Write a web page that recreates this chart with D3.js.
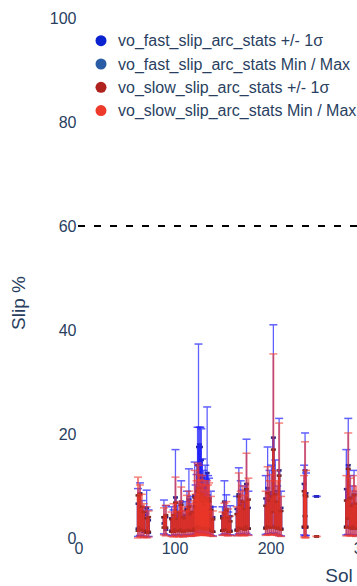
<!DOCTYPE html>
<html>
<head>
<meta charset="utf-8">
<script src="https://cdn.jsdelivr.net/npm/d3@7"></script>
<style>
  html, body { margin: 0; padding: 0; background: #fff; }
  svg { display: block; font-family: "Liberation Sans", Arial, sans-serif; }
  .tick text { fill: #2a3f5f; font-size: 16px; }
  .legend-label { fill: #2a3f5f; font-size: 16px; }
  .axis-title { fill: #2a3f5f; font-size: 19px; }
</style>
</head>
<body>
<div id="chart"></div>
<script>
// Sols with arc stats (grouped by cluster on each line)
const sols = [
  62, 64, 66, 68, 71, 73,
  89, 91,
  97, 99, 101, 103, 105, 107, 109, 111, 113, 115, 117, 119,
  121, 122, 123, 124, 125, 126, 127, 128, 129, 130, 131, 132, 133, 134, 135, 136,
  138, 140,
  150, 152, 154, 156, 158,
  165, 167, 169, 171, 173, 175, 177,
  195, 197, 199, 201, 203, 205, 207, 209, 211,
  235, 236, 237,
  248,
  279, 281, 283, 285, 287, 289
];

const fastMin = [
  0.3, 0.5, 0.4, 0.2, 0.2, 0.3,
  0.8, 0.6,
  0.5, 0.4, 0.6, 0.5, 0.4, 0.6, 0.3, 0.5, 0.6, 0.5, 0.4, 0.5,
  0.7, 0.6, 0.8, 1.0, 1.2, 1.0, 0.9, 0.8, 0.9, 0.7, 0.6, 0.8, 0.6, 0.9, 0.7, 0.6,
  0.5, 0.4,
  0.6, 0.8, 0.7, 0.5, 0.6,
  0.5, 0.8, 0.7, 0.6, 0.6, 0.9, 0.6,
  0.7, 0.8, 0.7, 0.8, 1.0, 0.8, 0.6, 0.5, 0.4,
  0.6, 0.4, 0.5,
  8,
  0.6, 0.7, 0.6, 0.5, 0.6, 0.4
];
const fastMean = [
  4.2, 5.6, 3.4, 2.8, 3.6, 2.2,
  3.4, 2.8,
  2.6, 2.2, 4.8, 2.8, 3.0, 4.4, 2.4, 3.0, 3.6, 4.6, 3.2, 2.8,
  5.0, 4.2, 4.6, 8.5, 10.5, 11.5, 10.0, 9.0, 7.0, 6.0, 5.4, 6.2, 5.0, 7.5, 5.2, 4.8,
  3.8, 2.6,
  2.8, 4.4, 3.6, 2.4, 2.8,
  3.6, 5.2, 4.6, 4.0, 4.2, 6.4, 3.8,
  4.8, 6.0, 5.2, 5.6, 12.5, 5.6, 4.0, 7.5, 3.8,
  6.2, 7.5, 5.4,
  8,
  5.8, 9.0, 5.0, 4.2, 5.4, 3.8
];
const fastSd = [
  2.4, 3.0, 1.8, 1.6, 2.2, 1.2,
  0.6, 1.2,
  1.2, 1.0, 3.0, 1.4, 1.6, 2.6, 1.2, 1.4, 2.0, 2.8, 1.8, 1.4,
  3.2, 2.4, 2.8, 5.5, 7.0, 6.5, 7.5, 6.0, 4.5, 3.6, 3.0, 3.8, 2.8, 5.0, 3.0, 2.8,
  2.2, 1.4,
  1.4, 2.6, 2.0, 1.2, 1.4,
  2.0, 3.2, 2.6, 2.2, 2.4, 4.0, 2.0,
  2.8, 3.6, 3.0, 3.2, 6.8, 3.4, 2.2, 5.5, 2.0,
  4.2, 5.5, 3.2,
  0,
  3.6, 5.0, 2.8, 2.4, 3.0, 2.0
];
const fastMax = [
  9.5, 10.6, 7.2, 6.0, 9.2, 5.4,
  7.3, 6.2,
  6.0, 5.4, 17.0, 6.2, 6.6, 11.0, 5.2, 7.0, 9.0, 13.3, 8.0, 6.2,
  14.6, 10.2, 12.2, 21.3, 37.3, 21.3, 21.3, 21.0, 15.2, 13.0, 12.0, 14.0, 11.2, 25.2, 12.0, 11.5,
  9.0, 6.0,
  6.0, 11.0, 8.3, 5.0, 6.2,
  8.0, 13.5, 11.0, 9.2, 10.0, 19.0, 9.0,
  12.0, 17.5, 13.0, 14.0, 41.0, 15.0, 10.0, 23.0, 9.0,
  14.0, 20.2, 12.5,
  8,
  17.0, 23.0, 12.0, 10.0, 13.0, 9.0
];

const slowMin = [
  0.0, 0.2, 0.3, 0.1, 0.0, 0.2,
  0.6, 0.4,
  0.3, 0.2, 0.4, 0.3, 0.2, 0.5, 0.2, 0.3, 0.4, 0.4, 0.3, 0.4,
  0.5, 0.4, 0.6, 0.8, 0.9, 0.7, 0.6, 0.7, 0.6, 0.5, 0.5, 0.6, 0.5, 0.7, 0.5, 0.5,
  0.4, 0.3,
  0.5, 0.6, 0.5, 0.4, 0.5,
  0.4, 0.6, 0.5, 0.5, 0.4, 0.7, 0.5,
  0.5, 0.6, 0.6, 0.6, 0.8, 0.6, 0.5, 0.4, 0.3,
  0.2, 0.0, 0.1,
  0.3,
  0.4, 0.5, 0.4, 0.4, 0.5, 0.3
];
const slowMean = [
  4.8, 5.2, 3.8, 3.2, 2.4, 2.6,
  3.0, 3.2,
  2.4, 2.8, 4.2, 2.5, 3.2, 4.0, 2.6, 2.6, 3.4, 3.8, 3.0, 3.2,
  4.8, 3.8, 4.4, 5.6, 6.0, 5.4, 5.0, 4.6, 5.2, 4.4, 4.8, 4.0, 4.4, 4.8, 4.6, 4.4,
  3.4, 2.4,
  2.6, 3.2, 3.4, 2.6, 2.2,
  3.0, 5.0, 4.0, 4.4, 3.6, 5.8, 4.6,
  4.0, 5.4, 4.6, 5.0, 11.0, 5.2, 4.4, 7.0, 3.4,
  5.6, 6.2, 5.0,
  0.3,
  4.6, 8.5, 4.8, 4.0, 5.2, 4.2
];
const slowSd = [
  3.4, 3.2, 2.2, 1.8, 1.4, 1.4,
  1.0, 1.2,
  1.2, 1.6, 2.6, 1.2, 1.8, 2.4, 1.4, 1.2, 2.0, 2.2, 1.6, 1.8,
  3.0, 2.2, 2.6, 3.4, 3.6, 3.2, 3.0, 2.8, 3.2, 2.6, 3.0, 2.4, 2.6, 2.8, 2.8, 2.6,
  2.0, 1.2,
  1.2, 1.6, 1.8, 1.4, 1.0,
  1.6, 3.0, 2.2, 2.6, 2.0, 3.6, 2.8,
  2.2, 3.2, 2.6, 3.0, 6.0, 3.2, 2.6, 5.0, 1.8,
  3.4, 2.0, 3.0,
  0,
  2.6, 4.8, 2.8, 2.2, 3.0, 2.4
];
const slowMax = [
  11.7, 10.2, 8.4, 6.6, 6.0, 5.2,
  5.8, 6.3,
  5.0, 6.6, 11.7, 5.1, 7.0, 9.8, 6.0, 5.2, 8.2, 9.0, 6.6, 7.2,
  13.0, 8.4, 11.0, 14.4, 14.0, 12.2, 11.2, 10.4, 12.0, 10.2, 11.0, 9.2, 10.0, 11.0, 10.2, 10.6,
  8.0, 5.2,
  5.0, 6.7, 7.0, 5.6, 4.2,
  6.0, 12.5, 9.0, 10.0, 8.2, 16.3, 11.5,
  9.0, 13.7, 11.0, 12.2, 35.4, 13.0, 11.0, 22.1, 8.0,
  12.0, 18.5, 13.0,
  0.3,
  12.0, 20.2, 11.5, 9.0, 12.0, 10.0
];

const legendNames = [
  "vo_fast_slip_arc_stats +/- 1σ",
  "vo_fast_slip_arc_stats Min / Max",
  "vo_slow_slip_arc_stats +/- 1σ",
  "vo_slow_slip_arc_stats Min / Max"
];
const legendColors = ["#0a22d0", "#2a5ca6", "#b0221e", "#ee3a2a"];

const xTicks = [0, 100, 200, 300];
const yTicks = [0, 20, 40, 60, 80, 100];
const slipLimit = 60;

const width = 357;
const height = 586;

const x = d3.scaleLinear().domain([0, 300]).range([78.5, 366.5]);
const y = d3.scaleLinear().domain([0, 100]).range([538, 18]);

const svg = d3.select("#chart").append("svg")
  .attr("width", width)
  .attr("height", height);

// axes, no lines, only labels
const yAxis = svg.append("g")
  .attr("transform", "translate(79,0)")
  .call(d3.axisLeft(y).tickValues(yTicks).tickSize(0).tickPadding(2.5));
yAxis.select(".domain").remove();

const xAxis = svg.append("g")
  .attr("transform", "translate(0,538)")
  .call(d3.axisBottom(x).tickValues(xTicks).tickSize(0).tickPadding(5));
xAxis.select(".domain").remove();
svg.selectAll(".tick text").attr("font-family", null).attr("font-size", null);

// threshold line
svg.append("line")
  .attr("x1", 78).attr("x2", width)
  .attr("y1", y(slipLimit)).attr("y2", y(slipLimit))
  .attr("stroke", "#000")
  .attr("stroke-width", 2)
  .attr("stroke-dasharray", "7,9");

// build rows
const rows = sols.map((s, i) => ({
  sol: s,
  fast: { lo: fastMin[i], hi: fastMax[i], m: fastMean[i], sd: fastSd[i] },
  slow: { lo: slowMin[i], hi: slowMax[i], m: slowMean[i], sd: slowSd[i] }
}));

function drawBars(g, lo, hi, st) {
  const b = g.selectAll("g").data(rows).join("g").attr("opacity", st.opacity);
  b.append("line")
    .attr("x1", d => x(d.sol)).attr("x2", d => x(d.sol))
    .attr("y1", d => y(lo(d))).attr("y2", d => y(hi(d)))
    .attr("stroke", st.color).attr("stroke-width", st.lw);
  [lo, hi].forEach(f => {
    b.append("line")
      .attr("x1", d => x(d.sol) - st.capW).attr("x2", d => x(d.sol) + st.capW)
      .attr("y1", d => y(f(d))).attr("y2", d => y(f(d)))
      .attr("stroke", st.capColor).attr("stroke-width", st.capLw);
  });
}

// same order as the legend
const marks = svg.append("g");
drawBars(marks.append("g"), d => d.fast.m - d.fast.sd, d => d.fast.m + d.fast.sd,
  { color: "#1c1ce6", lw: 2.5, capW: 2.5, capColor: "#10107a", capLw: 2.5, opacity: 0.9 });
drawBars(marks.append("g"), d => d.fast.lo, d => d.fast.hi,
  { color: "#2424ff", lw: 1.3, capW: 4, capColor: "#2424ff", capLw: 1.5, opacity: 0.72 });
drawBars(marks.append("g"), d => d.slow.m - d.slow.sd, d => d.slow.m + d.slow.sd,
  { color: "#b8221c", lw: 2.5, capW: 2.5, capColor: "#6a1410", capLw: 2.5, opacity: 0.9 });
drawBars(marks.append("g"), d => d.slow.lo, d => d.slow.hi,
  { color: "#f23a2c", lw: 2, capW: 4, capColor: "#f23a2c", capLw: 1.5, opacity: 0.62 });

// legend
const legend = svg.append("g");
legendNames.forEach((name, i) => {
  const cy = 40.7 + i * 23.3;
  legend.append("circle")
    .attr("cx", 101).attr("cy", cy).attr("r", 5.5)
    .attr("fill", legendColors[i]);
  legend.append("text")
    .attr("class", "legend-label")
    .attr("x", 118).attr("y", cy)
    .attr("dy", "0.35em")
    .text(name);
});

// axis titles
svg.append("text")
  .attr("class", "axis-title")
  .attr("transform", "translate(25,303) rotate(-90)")
  .attr("text-anchor", "middle")
  .text("Slip %");

svg.append("text")
  .attr("class", "axis-title")
  .attr("x", 339).attr("y", 582)
  .attr("text-anchor", "middle")
  .text("Sol");
</script>
</body>
</html>
